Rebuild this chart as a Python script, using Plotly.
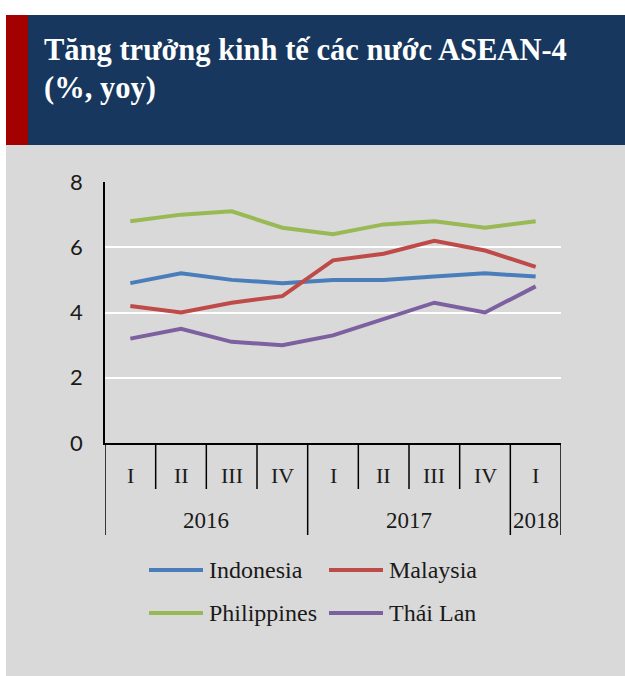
import plotly.graph_objects as go

# ---------------- data ----------------
quarters = ["I", "II", "III", "IV", "I", "II", "III", "IV", "I"]
years = ["2016", "2016", "2016", "2016", "2017", "2017", "2017", "2017", "2018"]
series_names = ["Indonesia", "Malaysia", "Philippines", "Thái Lan"]
indonesia = [4.9, 5.2, 5.0, 4.9, 5.0, 5.0, 5.1, 5.2, 5.1]
malaysia = [4.2, 4.0, 4.3, 4.5, 5.6, 5.8, 6.2, 5.9, 5.4]
philippines = [6.8, 7.0, 7.1, 6.6, 6.4, 6.7, 6.8, 6.6, 6.8]
thailand = [3.2, 3.5, 3.1, 3.0, 3.3, 3.8, 4.3, 4.0, 4.8]
colors = ["#4a7ebb", "#be4b48", "#98b954", "#7d60a0"]
title_lines = ["Tăng trưởng kinh tế các nước ASEAN-4", "(%, yoy)"]

# ---------------- layout geometry ----------------
W, H = 625, 676
L, R, T, B = 105, 64, 182, 233
PW, PH = W - L - R, H - T - B


def px(x):
    return (x - L) / PW


def py(y):
    return (H - B - y) / PH


SERIF = "Liberation Serif"
SANS = "Lato"

fig = go.Figure()
xs = list(range(len(quarters)))
for name, vals, col in zip(series_names, [indonesia, malaysia, philippines, thailand], colors):
    fig.add_trace(go.Scatter(x=xs, y=vals, mode="lines", name=name,
                             line=dict(color=col, width=4), showlegend=False,
                             hoverinfo="skip"))

shapes = []
annotations = []

# background panel and title band
shapes.append(dict(type="rect", xref="paper", yref="paper", layer="below",
                   x0=px(6), x1=px(W + 5), y0=py(H + 5), y1=py(145),
                   fillcolor="#d9d9d9", line=dict(width=0)))
shapes.append(dict(type="rect", xref="paper", yref="paper", layer="below",
                   x0=px(6), x1=px(W + 5), y0=py(145), y1=py(15),
                   fillcolor="#17375e", line=dict(width=0)))
shapes.append(dict(type="rect", xref="paper", yref="paper", layer="below",
                   x0=px(6), x1=px(28), y0=py(145), y1=py(15),
                   fillcolor="#a30000", line=dict(width=0)))

annotations.append(dict(text="<b>%s</b>" % title_lines[0], xref="paper", yref="paper",
                        x=px(42), y=py(50), xanchor="left", yanchor="middle", showarrow=False,
                        font=dict(family=SERIF, size=30.5, color="white")))
annotations.append(dict(text="<b>%s</b>" % title_lines[1], xref="paper", yref="paper",
                        x=px(42), y=py(88), xanchor="left", yanchor="middle", showarrow=False,
                        font=dict(family=SERIF, size=30.5, color="white")))

# category axis: dividers and labels
short_drop = py(489)
long_drop = py(535)
n = len(quarters)
for k in range(n + 1):
    is_year_edge = (k == 0 or k == n or years[k] != years[k - 1])
    shapes.append(dict(type="line", xref="x", yref="paper", x0=k - 0.5, x1=k - 0.5,
                       y0=0, y1=long_drop if is_year_edge else short_drop,
                       line=dict(color="black", width=1.5)))
for k, q in enumerate(quarters):
    annotations.append(dict(text=q, xref="x", yref="paper", x=k, y=py(475),
                            xanchor="center", yanchor="middle", showarrow=False,
                            font=dict(family=SERIF, size=22, color="#1a1a1a")))
uniq_years = []
for y in years:
    if y not in uniq_years:
        uniq_years.append(y)
for yv in uniq_years:
    idx = [i for i, y in enumerate(years) if y == yv]
    annotations.append(dict(text=yv, xref="x", yref="paper", x=(idx[0] + idx[-1]) / 2, y=py(520),
                            xanchor="center", yanchor="middle", showarrow=False,
                            font=dict(family=SERIF, size=23, color="#1a1a1a")))

# custom legend
leg_pos = [(149, 570), (329, 570), (149, 613), (329, 613)]
for (lx, ly), name, col in zip(leg_pos, series_names, colors):
    shapes.append(dict(type="line", xref="paper", yref="paper", x0=px(lx), x1=px(lx + 54),
                       y0=py(ly), y1=py(ly), line=dict(color=col, width=4)))
    annotations.append(dict(text=name, xref="paper", yref="paper", x=px(lx + 58), y=py(ly),
                            xanchor="left", yanchor="middle", showarrow=False,
                            font=dict(family=SERIF, size=24, color="#1a1a1a")))

fig.update_layout(
    width=W, height=H,
    margin=dict(l=L, r=R, t=T, b=B, autoexpand=False),
    paper_bgcolor="white",
    plot_bgcolor="rgba(0,0,0,0)",
    shapes=shapes,
    annotations=annotations,
    showlegend=False,
    xaxis=dict(range=[-0.5, n - 0.5], showticklabels=False, showgrid=False, zeroline=False,
               showline=True, linecolor="black", linewidth=1.5, ticks=""),
    yaxis=dict(range=[0, 8], dtick=2, tick0=0, showgrid=True, gridcolor="white", gridwidth=1.5,
               zeroline=False, showline=True, linecolor="black", linewidth=1.5, ticks="",
               ticklabelstandoff=16,
               tickfont=dict(family=SANS, size=22, color="#1a1a1a")),
)

fig.write_html("out.html", config={"displayModeBar": False},
               post_script="document.body.style.margin='0px';")
